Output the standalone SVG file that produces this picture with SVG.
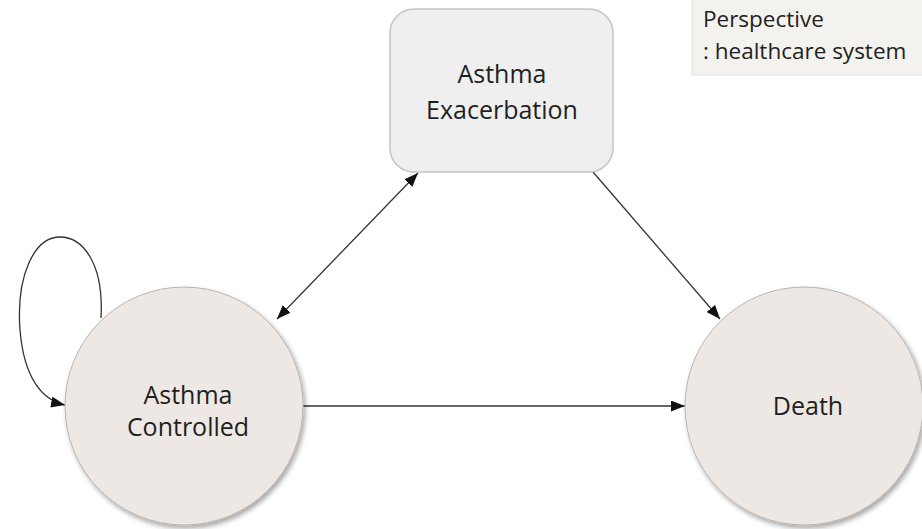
<svg xmlns="http://www.w3.org/2000/svg" width="922" height="529" viewBox="0 0 922 529">
  <defs>
    <style>
      .lbl { font-family: "Open Sans", "Liberation Sans", sans-serif; fill: #1f1f1f; text-anchor: middle; }
      .node-text { font-size: 25px; }
      .note { font-family: "Open Sans", "Liberation Sans", sans-serif; font-size: 22.5px; fill: #222222; }
      .edge { fill: none; stroke: #333333; stroke-width: 1.3; }
      .state { fill: #eee8e4; stroke: #b9b4b0; stroke-width: 1; }
      .box { fill: #efefef; stroke: #c4c4c4; stroke-width: 1.5; }
    </style>
    <marker id="arr" viewBox="0 0 14 11" refX="14" refY="5.5" markerWidth="14" markerHeight="11" markerUnits="userSpaceOnUse" orient="auto-start-reverse">
      <path d="M0,0 L14,5.5 L0,11 Z" fill="#111"/>
    </marker>
    <filter id="sh" x="-20%" y="-20%" width="140%" height="140%">
      <feGaussianBlur in="SourceAlpha" stdDeviation="2.5"/>
      <feOffset dx="2" dy="3" result="b"/>
      <feComponentTransfer><feFuncA type="linear" slope="0.35"/></feComponentTransfer>
      <feMerge><feMergeNode/><feMergeNode in="SourceGraphic"/></feMerge>
    </filter>
  </defs>
  <rect width="922" height="529" fill="#ffffff"/>

  <g id="note">
    <rect x="692" y="-10" width="240" height="85" fill="#f4f2ef" stroke="#e2e0dc" stroke-width="1"/>
    <text class="note" x="703" y="27">Perspective</text>
    <text class="note" x="703" y="59">: healthcare system</text>
  </g>

  <g id="connectors">
    <path class="edge" d="M101,318 C104,262 82,237 60,237 C34,237 16,276 20,330 C24,378 42,400 65,405" marker-end="url(#arr)"/>
    <line class="edge" x1="277" y1="319" x2="418" y2="173" marker-start="url(#arr)" marker-end="url(#arr)"/>
    <line class="edge" x1="593" y1="172" x2="720" y2="319" marker-end="url(#arr)"/>
    <line class="edge" x1="303" y1="406" x2="685" y2="406" marker-end="url(#arr)"/>
  </g>

  <g id="exacerbation">
    <rect class="box" x="390" y="9" width="223" height="163" rx="24" ry="24"/>
    <text class="lbl node-text" x="502" y="83">Asthma</text>
    <text class="lbl node-text" x="502" y="119">Exacerbation</text>
  </g>

  <g id="controlled">
    <circle class="state" cx="184" cy="406" r="119" filter="url(#sh)"/>
    <text class="lbl node-text" x="188" y="404">Asthma</text>
    <text class="lbl node-text" x="188" y="436">Controlled</text>
  </g>

  <g id="death">
    <circle class="state" cx="804" cy="406" r="119" filter="url(#sh)"/>
    <text class="lbl node-text" x="808" y="415">Death</text>
  </g>
</svg>
